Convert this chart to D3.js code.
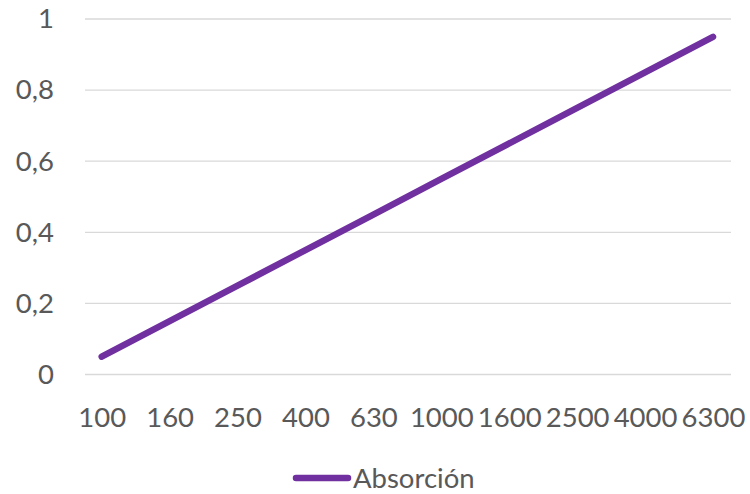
<!DOCTYPE html>
<html>
<head>
<meta charset="utf-8">
<script src="https://cdn.jsdelivr.net/npm/d3@7"></script>
<style>
  html, body { margin: 0; padding: 0; background: #fff; }
  svg { display: block; }
  text { font-family: Lato, "Open Sans", sans-serif; fill: #595959; }
</style>
</head>
<body>
<svg id="chart" width="750" height="494"></svg>
<script>
// Frequency bands (Hz) and absorption coefficient
const categories = ["100", "160", "250", "400", "630", "1000", "1600", "2500", "4000", "6300"];
const absorcion = [0.05, 0.15, 0.25, 0.35, 0.45, 0.55, 0.65, 0.75, 0.85, 0.95];
const yTicks = [0, 0.2, 0.4, 0.6, 0.8, 1];
const seriesName = "Absorción";

const svg = d3.select("#chart");
const plotLeft = 85, plotRight = 731;
const fontSize = 27.5;

const x = d3.scalePoint().domain(categories).range([101.7, 713]);
const y = d3.scaleLinear().domain([0, 1]).range([374.5, 19]);

const fmt = v => String(v).replace(".", ",");

// horizontal gridlines
svg.append("g")
  .selectAll("line")
  .data(yTicks)
  .join("line")
  .attr("x1", plotLeft).attr("x2", plotRight)
  .attr("y1", d => y(d)).attr("y2", d => y(d))
  .attr("stroke", "#d9d9d9").attr("stroke-width", 1.3);

// y axis labels
const yAxis = d3.axisLeft(y).tickValues(yTicks).tickFormat(fmt).tickSize(0).tickPadding(0);
svg.append("g")
  .attr("transform", "translate(54,0)")
  .call(yAxis)
  .call(g => g.select(".domain").remove())
  .call(g => g.selectAll("text")
    .attr("font-family", "Lato, 'Open Sans', sans-serif")
    .attr("font-size", fontSize).attr("fill", "#595959"));

// x axis labels
const xAxis = d3.axisBottom(x).tickSize(0).tickPadding(0);
svg.append("g")
  .attr("transform", "translate(0,417)")
  .call(xAxis)
  .call(g => g.select(".domain").remove())
  .call(g => g.selectAll("text")
    .attr("dy", "0.35em")
    .attr("font-family", "Lato, 'Open Sans', sans-serif")
    .attr("font-size", fontSize).attr("fill", "#595959"));

// series line
const line = d3.line()
  .x((d, i) => x(categories[i]))
  .y(d => y(d));

svg.append("path")
  .datum(absorcion)
  .attr("d", line)
  .attr("fill", "none")
  .attr("stroke", "#7030a0")
  .attr("stroke-width", 6.5)
  .attr("stroke-linecap", "round")
  .attr("stroke-linejoin", "round");

// legend
const legend = svg.append("g").attr("transform", "translate(0,478)");
legend.append("line")
  .attr("x1", 296).attr("x2", 348)
  .attr("y1", 0).attr("y2", 0)
  .attr("stroke", "#7030a0").attr("stroke-width", 6.5)
  .attr("stroke-linecap", "round");
legend.append("text")
  .attr("x", 353).attr("y", 0).attr("dy", "0.35em")
  .attr("font-size", fontSize)
  .text(seriesName);
</script>
</body>
</html>
